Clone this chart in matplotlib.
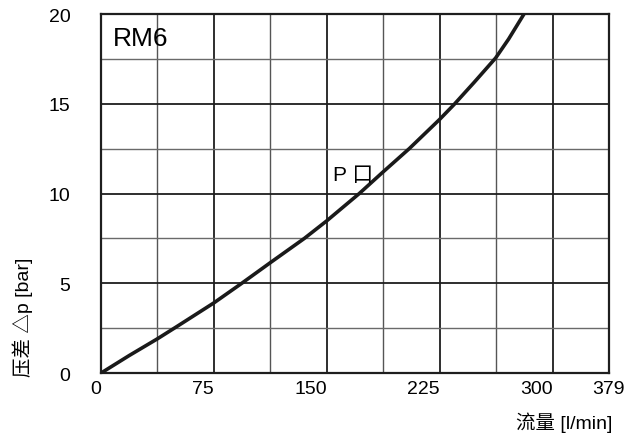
import numpy as np
import matplotlib.pyplot as plt

plt.rcParams['font.family'] = ['Liberation Sans', 'Noto Sans CJK SC', 'DejaVu Sans']

# 读取的曲线点 (流量 l/min, 压差 bar)
flow = [0, 18.8, 37.5, 49.8, 75, 93.0, 112.5, 135.1, 150, 171.6, 186.7, 204.8, 225, 234.6, 248.0, 262.2, 270.8, 280.9]
dp = [0, 0.98, 1.91, 2.56, 3.91, 4.97, 6.15, 7.5, 8.48, 10.0, 11.15, 12.5, 14.13, 14.96, 16.2, 17.55, 18.6, 19.98]

# 刻度
x_ticks = [0, 75, 150, 225, 300, 337.5]
x_labels = ['0', '75', '150', '225', '300', '379']
y_ticks = [0, 5, 10, 15, 20]
x_grid = np.arange(0, 337.6, 37.5)
y_grid = np.arange(0, 20.1, 2.5)

fig = plt.figure(figsize=(6.39, 4.35), dpi=100)
ax = fig.add_axes([0.158, 0.140, 0.795, 0.8255])

# 网格
for gx in x_grid[1:-1]:
    major = gx in x_ticks
    ax.axvline(gx, color='#1e1e1e' if major else '#555555', lw=1.3 if major else 1.0, zorder=1)
for gy in y_grid[1:-1]:
    major = gy in y_ticks
    ax.axhline(gy, color='#1e1e1e' if major else '#6a6a6a', lw=1.3 if major else 1.0, zorder=1)

ax.plot(flow, dp, color='#1a1a1a', lw=2.6, zorder=3, solid_joinstyle='round')

ax.set_xlim(0, 337.5)
ax.set_ylim(0, 20)
ax.set_xticks(x_ticks)
ax.set_xticklabels(x_labels, fontsize=14)
for i, lab in enumerate(ax.get_xticklabels()):
    lab.set_ha('center' if i == len(x_labels) - 1 else 'right')
ax.set_yticks(y_ticks)
ax.set_yticklabels([str(v) for v in y_ticks], fontsize=14)
ax.tick_params(length=0)
ax.tick_params(axis='y', pad=22)
ax.tick_params(axis='x', pad=5)
for s in ax.spines.values():
    s.set_linewidth(1.6)
    s.set_color('#1e1e1e')

ax.text(8, 18.67, 'RM6', fontsize=19, va='center', ha='left')
ax.text(154, 11.05, 'P 口', fontsize=15, va='center', ha='left')

fig.text(0.036, 0.27, '压差 △p [bar]', rotation=90, fontsize=14, ha='center', va='center')
fig.text(0.958, 0.005, '流量 [l/min]', fontsize=14, ha='right', va='bottom')

fig.savefig('out.png', dpi=100)
